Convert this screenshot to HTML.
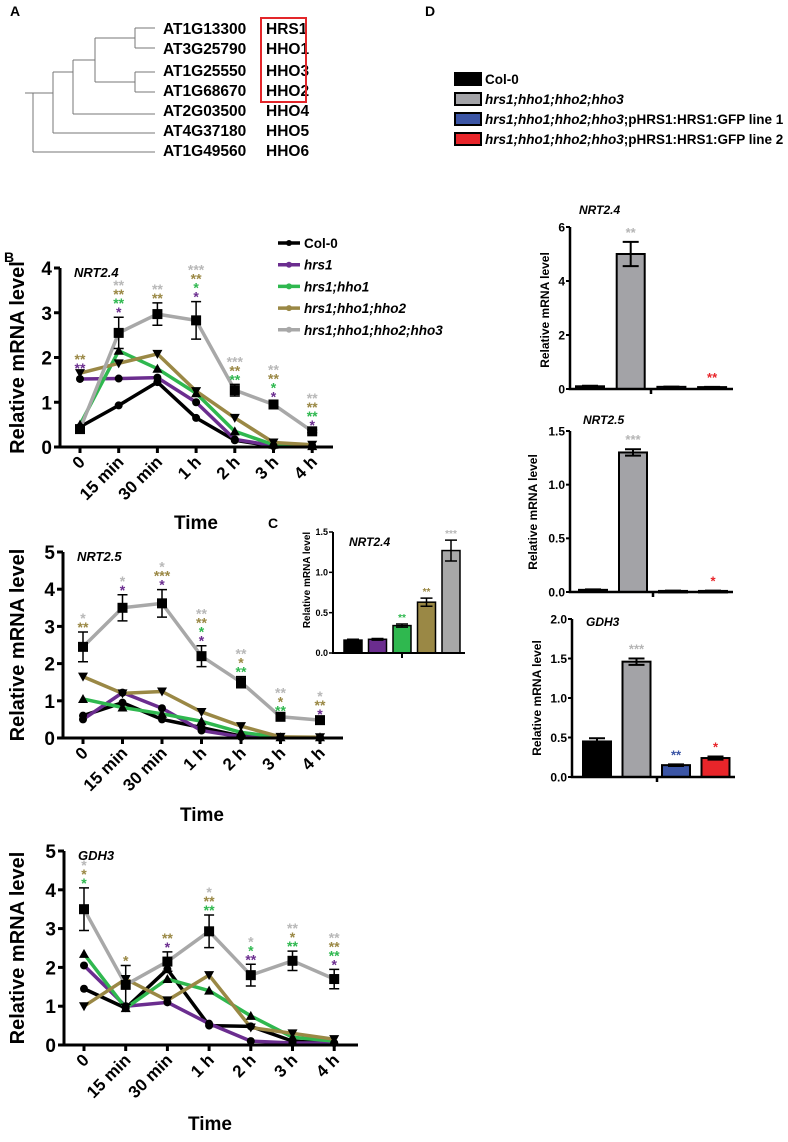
<!DOCTYPE html>
<html><head><meta charset="utf-8"><style>
body{margin:0;background:#fff}
svg{display:block;font-family:"Liberation Sans",Arial,sans-serif}
</style></head><body>
<svg id="fig" width="788" height="1142" viewBox="0 0 788 1142" xmlns="http://www.w3.org/2000/svg">
<g>
<text x="10" y="16" font-size="14" font-weight="bold">A</text>
<g stroke="#777" stroke-width="1" fill="none">
<path d="M135 28 H155 M135 48 H155 M135 28 V48"/>
<path d="M135 72 H155 M135 92 H155 M135 72 V92"/>
<path d="M95 38 H135 M95 82 H135 M95 38 V82"/>
<path d="M73 60 H95 M73 114 H155 M73 60 V114"/>
<path d="M53 72 H73 M53 133 H155 M53 72 V133"/>
<path d="M33 93 H53 M33 152 H155 M33 93 V152 M25 93 H33"/>
</g>
<g font-size="15.5" font-weight="bold">
<text x="163" y="34">AT1G13300</text><text x="266" y="34">HRS1</text>
<text x="163" y="54">AT3G25790</text><text x="266" y="54">HHO1</text>
<text x="163" y="76">AT1G25550</text><text x="266" y="76">HHO3</text>
<text x="163" y="96">AT1G68670</text><text x="266" y="96">HHO2</text>
<text x="163" y="116">AT2G03500</text><text x="266" y="116">HHO4</text>
<text x="163" y="136">AT4G37180</text><text x="266" y="136">HHO5</text>
<text x="163" y="156">AT1G49560</text><text x="266" y="156">HHO6</text>
</g>
<rect x="261" y="18" width="45" height="84" fill="none" stroke="#e3262a" stroke-width="2"/>
</g>
<text x="425" y="16" font-size="14" font-weight="bold">D</text>
<text x="4" y="262" font-size="14" font-weight="bold">B</text>
<text x="268" y="528" font-size="14" font-weight="bold">C</text>
<g id="dlegend"></g>
<g id="blegend"></g>
<g id="charts"></g>
</svg>
<script>
const NS="http://www.w3.org/2000/svg";
const times=["0","15 min","30 min","1 h","2 h","3 h","4 h"];
const seriesNames=["Col-0","hrs1","hrs1;hho1","hrs1;hho1;hho2","hrs1;hho1;hho2;hho3"];
const seriesColors=["#000000","#6b2d8f","#2fb84f","#9a8845","#a8a8a8"];
const starColors=["#000","#6b2d8f","#2fb84f","#9a8845","#b8b8b8"];
const nrt24Col=[0.45,0.93,1.45,0.65,0.15,0.02,0.02];
const nrt24Hrs1=[1.52,1.53,1.55,1.0,0.17,0.03,0.02];
const nrt24Hho1=[0.5,2.15,1.75,1.2,0.35,0.05,0.02];
const nrt24Hho2=[1.65,1.87,2.08,1.25,0.65,0.1,0.05];
const nrt24Hho3=[0.4,2.55,2.97,2.83,1.27,0.95,0.35];
const nrt24Err=[0.08,0.35,0.25,0.42,0.13,0.07,0.03];
const nrt24Stars=[[[1,"**"],[3,"**"]],[[1,"*"],[2,"**"],[3,"**"],[4,"**"]],[[3,"**"],[4,"**"]],[[1,"*"],[2,"*"],[3,"**"],[4,"***"]],[[2,"**"],[3,"**"],[4,"***"]],[[1,"*"],[2,"*"],[3,"**"],[4,"**"]],[[1,"*"],[2,"**"],[3,"**"],[4,"**"]]];
const nrt25Col=[0.6,0.95,0.5,0.28,0.05,0.01,0.01];
const nrt25Hrs1=[0.5,1.22,0.8,0.2,0.03,0.01,0.01];
const nrt25Hho1=[1.05,0.82,0.65,0.45,0.15,0.02,0.02];
const nrt25Hho2=[1.65,1.2,1.25,0.7,0.32,0.03,0.02];
const nrt25Hho3=[2.45,3.5,3.62,2.2,1.5,0.57,0.48];
const nrt25Err=[0.4,0.35,0.37,0.28,0.15,0.03,0.03];
const nrt25Stars=[[[3,"**"],[4,"*"]],[[1,"*"],[4,"*"]],[[1,"*"],[3,"***"],[4,"*"]],[[1,"*"],[2,"*"],[3,"**"],[4,"**"]],[[2,"**"],[3,"*"],[4,"**"]],[[2,"**"],[3,"*"],[4,"**"]],[[1,"*"],[3,"**"],[4,"*"]]];
const gdhCol=[1.45,0.95,1.95,0.5,0.48,0.1,0.05];
const gdhHrs1=[2.05,1.0,1.1,0.55,0.1,0.05,0.05];
const gdhHho1=[2.35,0.95,1.7,1.4,0.75,0.2,0.1];
const gdhHho2=[1.0,1.7,1.15,1.8,0.45,0.3,0.15];
const gdhHho3=[3.5,1.55,2.15,2.93,1.8,2.17,1.7];
const gdhErr=[0.55,0.5,0.25,0.42,0.28,0.25,0.25];
const gdhStars=[[[2,"*"],[3,"*"],[4,"*"]],[[3,"*"]],[[1,"*"],[3,"**"]],[[2,"**"],[3,"**"],[4,"*"]],[[1,"**"],[2,"*"],[4,"*"]],[[2,"**"],[3,"*"],[4,"**"]],[[1,"*"],[2,"**"],[3,"**"],[4,"**"]]];
const yTicks5=[0,1,2,3,4,5];
const yTicks4=[0,1,2,3,4];
const cValues=[0.16,0.17,0.34,0.63,1.27];
const cErr=[0.01,0.01,0.02,0.05,0.13];
const cStars=["","","**","**","***"];
const cTicks=["0.0","0.5","1.0","1.5"];
const dNames=["Col-0","hrs1;hho1;hho2;hho3","hrs1;hho1;hho2;hho3;pHRS1:HRS1:GFP line 1","hrs1;hho1;hho2;hho3;pHRS1:HRS1:GFP line 2"];
const dColors=["#000000","#a3a3a7","#3b55a5","#e8252a"];
const dStarColors=["#000","#b5b5b5","#3b55a5","#e8252a"];
const d1Values=[0.1,5.0,0.08,0.07];
const d1Err=[0.02,0.45,0.01,0.01];
const d1Stars=["","**","","**"];
const d1Ticks=["0","2","4","6"];
const d2Values=[0.02,1.3,0.01,0.01];
const d2Err=[0.005,0.03,0.003,0.003];
const d2Stars=["","***","","*"];
const d2Ticks=["0.0","0.5","1.0","1.5"];
const d3Values=[0.45,1.46,0.15,0.24];
const d3Err=[0.04,0.04,0.01,0.02];
const d3Stars=["","***","**","*"];
const d3Ticks=["0.0","0.5","1.0","1.5","2.0"];

const root=document.getElementById('charts');
function mk(tag,attrs,parent,text){const e=document.createElementNS(NS,tag);for(const k in attrs)e.setAttribute(k,attrs[k]);if(text!==undefined)e.textContent=text;(parent||root).appendChild(e);return e;}

function lineChart(o){
  const g=mk('g',{});
  
  
  const ymax=o.ticks[o.ticks.length-1];
  const Y=v=>o.y0-(o.y0-o.yTop)*v/ymax;
  const X=i=>o.x0+o.dx*i;
  o.series.forEach((s,si)=>{
    const pts=s.map((v,i)=>X(i)+','+Y(v)).join(' ');
    const pl=mk('polyline',{points:pts,fill:'none',stroke:seriesColors[si],'stroke-width':3.5,'stroke-linejoin':'round'},g);
    
    
  });
  o.err.forEach((e,i)=>{
    const v=o.series[4][i];
    mk('path',{d:`M${X(i)} ${Y(v+e)}V${Y(Math.max(0,v-e))}M${X(i)-5} ${Y(v+e)}h10M${X(i)-5} ${Y(Math.max(0,v-e))}h10`,stroke:'#000','stroke-width':1.5,fill:'none'},g);
  });
  o.series.forEach((s,si)=>{
    s.forEach((v,i)=>{
      const x=X(i),y=Y(v);let m;
      if(si<=1)m=mk('circle',{cx:x,cy:y,r:4,fill:'#000'},g);
      else if(si==2)m=mk('polygon',{points:`${x},${y-5} ${x-5},${y+4} ${x+5},${y+4}`,fill:'#000'},g);
      else if(si==3)m=mk('polygon',{points:`${x},${y+5} ${x-5},${y-4} ${x+5},${y-4}`,fill:'#000'},g);
      else m=mk('rect',{x:x-5,y:y-5,width:10,height:10,fill:'#000'},g);
      
      
    });
  });
  mk('path',{d:`M${o.x0-20} ${o.y0}V${o.yTop}`,stroke:'#000','stroke-width':3,fill:'none'},g);
  const ax=mk('line',{x1:o.x0-20,y1:o.y0,x2:o.xEnd,y2:o.y0,stroke:'#000','stroke-width':3},g);
  
  o.ticks.forEach(t=>{
    mk('line',{x1:o.x0-26,x2:o.x0-20,y1:Y(t),y2:Y(t),stroke:'#000','stroke-width':3},g);
    const tl=mk('text',{x:o.x0-28,y:Y(t)+7,'font-size':19,'font-weight':'bold','text-anchor':'end'},g,String(t));
    
  });
  times.forEach((t,i)=>{
    mk('line',{x1:X(i),x2:X(i),y1:o.y0,y2:o.y0+6,stroke:'#000','stroke-width':3},g);
    const tl=mk('text',{x:X(i)+6,y:o.y0+16,'font-size':17,'font-weight':'bold','text-anchor':'end',transform:`rotate(-45 ${X(i)+6} ${o.y0+16})`},g,t);
    
  });
  const yt=mk('text',{x:0,y:0,'font-size':20,'font-weight':'bold','text-anchor':'middle',transform:`translate(24 ${(o.y0+o.yTop)/2}) rotate(-90)`},g,'Relative mRNA level');
  
  const xt=mk('text',{x:o.timeX,y:o.timeY,'font-size':19,'font-weight':'bold','text-anchor':'middle'},g,'Time');
  
  const gt=mk('text',{x:o.x0-6,y:o.yTop+9,'font-size':13,'font-weight':'bold','font-style':'italic'},g,o.gene);
  
  o.stars.forEach((arr,i)=>{
    let top=Math.max(...o.series.map(s=>s[i]),o.series[4][i]+o.err[i]);
    let y=Y(top)-6;
    arr.forEach(([c,txt])=>{
      const st=mk('text',{x:X(i),y:y+6,'font-size':14,'font-weight':'bold',fill:starColors[c],'text-anchor':'middle'},g,txt);
      
      y-=9;
    });
  });
}
lineChart({name:'chart-nrt2-4',gene:'NRT2.4',x0:80,dx:38.7,y0:447,yTop:268,xEnd:333,ticks:yTicks4,series:[nrt24Col,nrt24Hrs1,nrt24Hho1,nrt24Hho2,nrt24Hho3],err:nrt24Err,stars:nrt24Stars,timeX:196,timeY:529});
lineChart({name:'chart-nrt2-5',gene:'NRT2.5',x0:83,dx:39.5,y0:738,yTop:552,xEnd:343,ticks:yTicks5,series:[nrt25Col,nrt25Hrs1,nrt25Hho1,nrt25Hho2,nrt25Hho3],err:nrt25Err,stars:nrt25Stars,timeX:202,timeY:821});
lineChart({name:'chart-gdh3',gene:'GDH3',x0:84,dx:41.7,y0:1045,yTop:851,xEnd:358,ticks:yTicks5,series:[gdhCol,gdhHrs1,gdhHho1,gdhHho2,gdhHho3],err:gdhErr,stars:gdhStars,timeX:210,timeY:1130});

const bl=document.getElementById('blegend');
seriesNames.forEach((n,i)=>{
  const y=243+21.7*i;
  mk('line',{x1:278,x2:300,y1:y,y2:y,stroke:seriesColors[i],'stroke-width':3.5},bl);
  mk('circle',{cx:289,cy:y,r:3,fill:i==0?'#000':seriesColors[i]},bl);
  const t=mk('text',{x:304,y:y+5,'font-size':13.5,'font-weight':'bold','font-style':i==0?'normal':'italic'},bl,n);
  
});

function barChart(o){
  const g=mk('g',{});
  
  
  const ymax=parseFloat(o.ticks[o.ticks.length-1]);
  const Y=v=>o.y0-(o.y0-o.yTop)*v/ymax;
  o.values.forEach((v,i)=>{
    const cx=o.bx0+o.bdx*i;
    const r=mk('rect',{x:cx-o.bw/2,y:Y(v),width:o.bw,height:Math.max(o.y0-Y(v),1.5),fill:o.colors[i],stroke:'#000','stroke-width':o.sw},g);
    
    const e=o.err[i];
    mk('path',{d:`M${cx} ${Y(v+e)}V${Y(Math.max(0,v-e))}M${cx-o.cap} ${Y(v+e)}h${2*o.cap}M${cx-o.cap} ${Y(Math.max(0,v-e))}h${2*o.cap}`,stroke:'#000','stroke-width':o.sw,fill:'none'},g);
    if(o.stars[i]){const st=mk('text',{x:cx,y:Y(v+e)-o.starGap,'font-size':o.starSize,'font-weight':'bold',fill:o.starColors[i],'text-anchor':'middle'},g,o.stars[i]);
      }
  });
  mk('path',{d:`M${o.x0} ${o.yTop}V${o.y0}H${o.xEnd}M${o.midTick} ${o.y0}v5`,stroke:'#000','stroke-width':o.sw+0.5,fill:'none'},g);
  o.ticks.forEach(t=>{
    const y=Y(parseFloat(t));
    mk('line',{x1:o.x0-4,x2:o.x0,y1:y,y2:y,stroke:'#000','stroke-width':o.sw},g);
    const tl=mk('text',{x:o.x0-5,y:y+o.tfs*0.36,'font-size':o.tfs,'font-weight':'bold','text-anchor':'end'},g,t);
    
  });
  const yt=mk('text',{x:0,y:0,'font-size':o.lfs,'font-weight':'bold','text-anchor':'middle',transform:`translate(${o.labelX} ${o.labelY}) rotate(-90)`},g,'Relative mRNA level');
  
  const gt=mk('text',{x:o.titleX,y:o.titleY,'font-size':o.gfs,'font-weight':'bold','font-style':'italic'},g,o.gene);
  
}
barChart({name:'chart-c-nrt2-4',gene:'NRT2.4',values:cValues,err:cErr,stars:cStars,ticks:cTicks,colors:seriesColors,starColors:starColors,
  x0:333,y0:653,yTop:532,xEnd:465,bx0:353,bdx:24.5,bw:18,cap:6,sw:1.5,tfs:9,lfs:10,gfs:12,labelX:310,labelY:580,titleX:349,titleY:546,midTick:402,starGap:3,starSize:10});
barChart({name:'chart-d-nrt2-4',gene:'NRT2.4',values:d1Values,err:d1Err,stars:d1Stars,ticks:d1Ticks,colors:dColors,starColors:dStarColors,
  x0:570,y0:389,yTop:227,xEnd:733,bx0:590,bdx:40.7,bw:28,cap:8,sw:2,tfs:12,lfs:12,gfs:12,labelX:549,labelY:310,titleX:579,titleY:214,midTick:651,starGap:5,starSize:13});
barChart({name:'chart-d-nrt2-5',gene:'NRT2.5',values:d2Values,err:d2Err,stars:d2Stars,ticks:d2Ticks,colors:dColors,starColors:dStarColors,
  x0:570,y0:592,yTop:431,xEnd:733,bx0:593,bdx:40,bw:28,cap:8,sw:2,tfs:12,lfs:12,gfs:12,labelX:537,labelY:512,titleX:583,titleY:424,midTick:653,starGap:5,starSize:13});
barChart({name:'chart-d-gdh3',gene:'GDH3',values:d3Values,err:d3Err,stars:d3Stars,ticks:d3Ticks,colors:dColors,starColors:dStarColors,
  x0:572,y0:777,yTop:619,xEnd:735,bx0:597,bdx:39.5,bw:28,cap:8,sw:2,tfs:12,lfs:12,gfs:12,labelX:541,labelY:698,titleX:586,titleY:626,midTick:657,starGap:5,starSize:13});

const dl=document.getElementById('dlegend');
dNames.forEach((n,i)=>{
  const y=79+20*i;
  mk('rect',{x:455,y:y-6,width:26,height:12,fill:dColors[i],stroke:'#000','stroke-width':2},dl);
  const t=mk('text',{x:485,y:y+5,'font-size':13.5,'font-weight':'bold'},dl);
  if(i==0){t.textContent=n;}
  else{mk('tspan',{'font-style':'italic'},t,'hrs1;hho1;hho2;hho3');if(i>1)mk('tspan',{},t,';pHRS1:HRS1:GFP line '+(i-1));}
  
});
</script>
</body></html>
